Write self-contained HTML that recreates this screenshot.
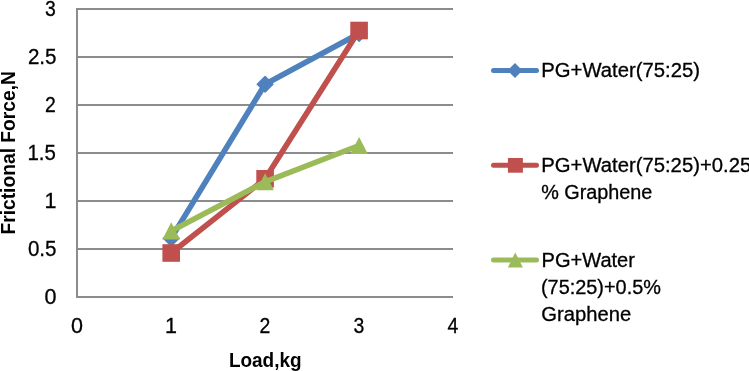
<!DOCTYPE html>
<html><head><meta charset="utf-8">
<style>
html,body{margin:0;padding:0;background:#fff;}
body{width:749px;height:371px;overflow:hidden;}
svg{display:block;}
text{font-family:"Liberation Sans",sans-serif;fill:#000;stroke:#000;stroke-width:0.3px;}
.b{font-weight:bold;stroke:none;}
</style></head>
<body>
<svg style="will-change:transform" width="749" height="371" viewBox="0 0 749 371">
<rect width="749" height="371" fill="#fff"/>
<!-- gridlines -->
<g stroke="#8c8c8c" stroke-width="2" fill="none">
<line x1="77" y1="9" x2="453" y2="9"/>
<line x1="77" y1="57" x2="453" y2="57"/>
<line x1="77" y1="105" x2="453" y2="105"/>
<line x1="77" y1="153" x2="453" y2="153"/>
<line x1="77" y1="201" x2="453" y2="201"/>
<line x1="77" y1="249" x2="453" y2="249"/>
<path d="M77 8 V297 H453"/>
</g>
<!-- y labels -->
<g font-size="21.5" text-anchor="end">
<text x="55.8" y="16" textLength="10.8" lengthAdjust="spacingAndGlyphs">3</text>
<text x="56.5" y="64" textLength="28.6" lengthAdjust="spacingAndGlyphs">2.5</text>
<text x="55.8" y="112" textLength="10.8" lengthAdjust="spacingAndGlyphs">2</text>
<text x="55.8" y="160" textLength="28.4" lengthAdjust="spacingAndGlyphs">1.5</text>
<text x="56.5" y="208">1</text>
<text x="56.5" y="256" textLength="28.6" lengthAdjust="spacingAndGlyphs">0.5</text>
<text x="56.5" y="304">0</text>
</g>
<!-- x labels -->
<g font-size="21.5" text-anchor="middle">
<text x="77" y="333">0</text>
<text x="171" y="333">1</text>
<text x="265" y="333" textLength="10.8" lengthAdjust="spacingAndGlyphs">2</text>
<text x="359" y="333" textLength="10.8" lengthAdjust="spacingAndGlyphs">3</text>
<text x="453" y="333" textLength="10.8" lengthAdjust="spacingAndGlyphs">4</text>
</g>
<!-- axis titles -->
<text class="b" font-size="20" x="228.95" y="366.5" textLength="72.63" lengthAdjust="spacingAndGlyphs">Load,kg</text>
<text class="b" font-size="20" transform="translate(15,234.57) rotate(-90)" x="0" y="0" textLength="163.57" lengthAdjust="spacingAndGlyphs">Frictional Force,N</text>
<!-- series -->
<polyline fill="none" stroke="#4F81BD" stroke-width="5.6" stroke-linejoin="round" stroke-linecap="round" points="171.2,238.2 265.1,84.2 359.1,33.5"/>
<g fill="#4F81BD"><path d="M171.2 229.40 L180.00 238.2 L171.2 247.00 L162.40 238.2Z"/><path d="M265.1 75.40 L273.90 84.2 L265.1 93.00 L256.30 84.2Z"/><path d="M359.1 24.70 L367.90 33.5 L359.1 42.30 L350.30 33.5Z"/></g>
<polyline fill="none" stroke="#C0504D" stroke-width="5.6" stroke-linejoin="round" stroke-linecap="round" points="171.2,253 265.1,178.8 359.1,30.5"/>
<g fill="#C0504D"><rect x="162.40" y="244.20" width="17.6" height="17.6"/><rect x="256.30" y="170.00" width="17.6" height="17.6"/><rect x="350.30" y="21.70" width="17.6" height="17.6"/></g>
<polyline fill="none" stroke="#9BBB59" stroke-width="5.6" stroke-linejoin="round" stroke-linecap="round" points="171.2,230.9 265.1,181.8 359.1,145.5"/>
<g fill="#9BBB59"><path d="M171.2 222.35 L180.00 239.45 L162.40 239.45Z"/><path d="M265.1 173.25 L273.90 190.35 L256.30 190.35Z"/><path d="M359.1 136.95 L367.90 154.05 L350.30 154.05Z"/></g>
<!-- legend -->
<g stroke-width="5" stroke-linecap="round">
<line x1="493.5" y1="70.5" x2="536.5" y2="70.5" stroke="#4F81BD"/>
<line x1="493.5" y1="165.3" x2="536.5" y2="165.3" stroke="#C0504D"/>
<line x1="493.5" y1="260" x2="536.5" y2="260" stroke="#9BBB59"/>
</g>
<path fill="#4F81BD" d="M515 63.1 L522.4 70.5 L515 77.9 L507.6 70.5Z"/>
<rect fill="#C0504D" x="507.9" y="158" width="15" height="14.7"/>
<path fill="#9BBB59" d="M515.2 252.4 L522.9 267.5 L507.9 267.5Z"/>
<g font-size="19.5">
<text x="541.34" y="76.8" textLength="158.6" lengthAdjust="spacingAndGlyphs">PG+Water(75:25)</text>
<text x="541.34" y="171.7" textLength="209.85" lengthAdjust="spacingAndGlyphs">PG+Water(75:25)+0.25</text>
<text x="541.19" y="198.9" textLength="111.2" lengthAdjust="spacingAndGlyphs">% Graphene</text>
<text x="541.56" y="266.7" textLength="93.38" lengthAdjust="spacingAndGlyphs">PG+Water</text>
<text x="540.97" y="293.9" textLength="119.94" lengthAdjust="spacingAndGlyphs">(75:25)+0.5%</text>
<text x="541.39" y="321.1" textLength="89.9" lengthAdjust="spacingAndGlyphs">Graphene</text>
</g>
</svg>
</body></html>
